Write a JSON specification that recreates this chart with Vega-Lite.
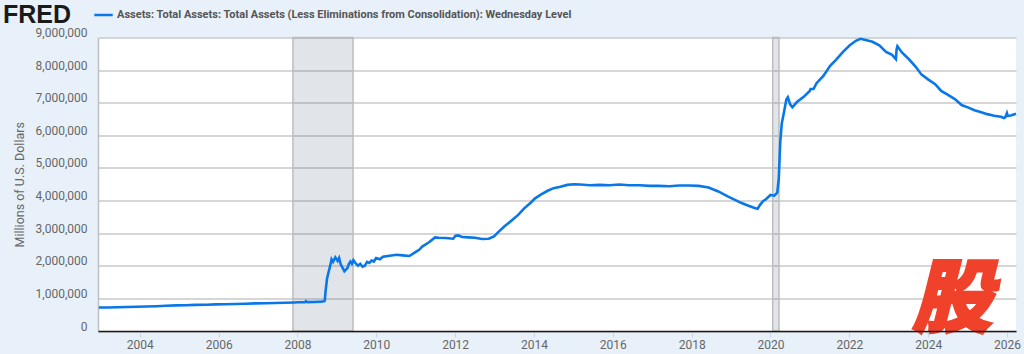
{
"$schema":"https://vega.github.io/schema/vega-lite/v6.json",
"width":918,"height":293.5,
"autosize":{"type":"none"},
"padding":{"left":98,"top":37.5,"right":8,"bottom":23},
"background":"#e8f1fa",
"view":{"fill":"#ffffff","stroke":null},
"title":{"text":"FRED","anchor":"start","frame":"group","dx":-95,"dy":23,"offset":0,"font":"Liberation Sans","fontSize":25,"fontWeight":"bold","color":"#1a1a1a"},
"datasets":{
"rec":[{"start":"2007-11-20","end":"2009-05-30"},{"start":"2020-01-22","end":"2020-03-20"}],
"mark":[{"date":"2024-08-10","value":900000,"t":"股"}],
"assets":[
{"date":"2002-12-18","value":720000},{"date":"2003-03-05","value":722000},{"date":"2003-06-04","value":728000},{"date":"2003-09-03","value":735000},{"date":"2003-12-03","value":745000},{"date":"2004-03-03","value":750000},{"date":"2004-06-02","value":760000},{"date":"2004-09-01","value":772000},{"date":"2004-12-01","value":785000},{"date":"2005-03-02","value":790000},{"date":"2005-06-01","value":800000},{"date":"2005-09-07","value":807000},{"date":"2005-12-07","value":815000},{"date":"2006-03-01","value":818000},{"date":"2006-06-07","value":828000},{"date":"2006-09-06","value":835000},{"date":"2006-12-06","value":848000},{"date":"2007-03-07","value":852000},{"date":"2007-06-06","value":858000},{"date":"2007-09-05","value":868000},{"date":"2007-12-05","value":875000},{"date":"2008-01-09","value":880000},{"date":"2008-03-12","value":885000},{"date":"2008-03-19","value":915000},{"date":"2008-04-02","value":885000},{"date":"2008-06-04","value":890000},{"date":"2008-08-06","value":900000},{"date":"2008-09-03","value":910000},{"date":"2008-09-10","value":925000},{"date":"2008-09-17","value":1200000},{"date":"2008-09-24","value":1400000},{"date":"2008-10-01","value":1600000},{"date":"2008-10-15","value":1800000},{"date":"2008-10-29","value":1980000},{"date":"2008-11-12","value":2200000},{"date":"2008-11-26","value":2120000},{"date":"2008-12-17","value":2260000},{"date":"2009-01-07","value":2150000},{"date":"2009-01-21","value":2240000},{"date":"2009-02-04","value":2050000},{"date":"2009-02-25","value":1920000},{"date":"2009-03-11","value":1830000},{"date":"2009-03-25","value":1880000},{"date":"2009-04-08","value":1930000},{"date":"2009-04-22","value":2060000},{"date":"2009-05-06","value":2130000},{"date":"2009-05-20","value":2060000},{"date":"2009-06-03","value":2170000},{"date":"2009-06-17","value":2100000},{"date":"2009-07-01","value":2050000},{"date":"2009-07-15","value":2000000},{"date":"2009-08-05","value":2060000},{"date":"2009-08-26","value":1970000},{"date":"2009-09-16","value":2000000},{"date":"2009-10-07","value":2120000},{"date":"2009-10-28","value":2090000},{"date":"2009-11-18","value":2160000},{"date":"2009-12-09","value":2130000},{"date":"2009-12-30","value":2240000},{"date":"2010-02-03","value":2200000},{"date":"2010-03-03","value":2280000},{"date":"2010-05-05","value":2310000},{"date":"2010-07-07","value":2340000},{"date":"2010-09-01","value":2320000},{"date":"2010-11-03","value":2300000},{"date":"2010-12-29","value":2420000},{"date":"2011-02-02","value":2490000},{"date":"2011-03-02","value":2590000},{"date":"2011-05-04","value":2720000},{"date":"2011-06-29","value":2870000},{"date":"2011-08-03","value":2860000},{"date":"2011-10-05","value":2850000},{"date":"2011-12-14","value":2830000},{"date":"2012-01-04","value":2920000},{"date":"2012-02-01","value":2930000},{"date":"2012-03-07","value":2880000},{"date":"2012-05-02","value":2870000},{"date":"2012-07-04","value":2860000},{"date":"2012-09-05","value":2820000},{"date":"2012-11-07","value":2830000},{"date":"2012-12-26","value":2900000},{"date":"2013-02-06","value":3040000},{"date":"2013-04-03","value":3210000},{"date":"2013-06-05","value":3380000},{"date":"2013-08-07","value":3560000},{"date":"2013-10-02","value":3760000},{"date":"2013-12-04","value":3940000},{"date":"2014-01-08","value":4060000},{"date":"2014-03-05","value":4180000},{"date":"2014-05-07","value":4300000},{"date":"2014-07-02","value":4380000},{"date":"2014-09-03","value":4420000},{"date":"2014-11-05","value":4480000},{"date":"2015-01-07","value":4500000},{"date":"2015-03-04","value":4490000},{"date":"2015-06-03","value":4470000},{"date":"2015-09-02","value":4480000},{"date":"2015-12-02","value":4470000},{"date":"2016-03-02","value":4490000},{"date":"2016-06-01","value":4470000},{"date":"2016-09-07","value":4470000},{"date":"2016-12-07","value":4450000},{"date":"2017-03-01","value":4450000},{"date":"2017-06-07","value":4440000},{"date":"2017-09-06","value":4460000},{"date":"2017-12-06","value":4460000},{"date":"2018-03-07","value":4450000},{"date":"2018-06-06","value":4400000},{"date":"2018-09-05","value":4280000},{"date":"2018-12-05","value":4120000},{"date":"2019-02-06","value":4020000},{"date":"2019-04-03","value":3930000},{"date":"2019-06-05","value":3850000},{"date":"2019-08-07","value":3770000},{"date":"2019-09-04","value":3750000},{"date":"2019-09-25","value":3860000},{"date":"2019-10-23","value":3980000},{"date":"2019-11-20","value":4040000},{"date":"2020-01-01","value":4170000},{"date":"2020-02-05","value":4150000},{"date":"2020-03-04","value":4240000},{"date":"2020-03-18","value":4670000},{"date":"2020-03-25","value":5250000},{"date":"2020-04-01","value":5810000},{"date":"2020-04-15","value":6370000},{"date":"2020-05-06","value":6720000},{"date":"2020-05-27","value":7100000},{"date":"2020-06-10","value":7170000},{"date":"2020-07-01","value":6950000},{"date":"2020-07-22","value":6860000},{"date":"2020-09-02","value":7020000},{"date":"2020-11-04","value":7180000},{"date":"2020-12-30","value":7360000},{"date":"2021-01-06","value":7420000},{"date":"2021-02-03","value":7420000},{"date":"2021-03-03","value":7600000},{"date":"2021-05-05","value":7820000},{"date":"2021-07-07","value":8130000},{"date":"2021-09-01","value":8320000},{"date":"2021-11-03","value":8560000},{"date":"2022-01-05","value":8760000},{"date":"2022-03-02","value":8900000},{"date":"2022-04-13","value":8960000},{"date":"2022-06-01","value":8920000},{"date":"2022-08-03","value":8870000},{"date":"2022-10-05","value":8760000},{"date":"2022-12-07","value":8560000},{"date":"2023-02-01","value":8470000},{"date":"2023-03-08","value":8340000},{"date":"2023-03-15","value":8640000},{"date":"2023-03-22","value":8730000},{"date":"2023-05-03","value":8540000},{"date":"2023-07-05","value":8340000},{"date":"2023-09-06","value":8110000},{"date":"2023-11-01","value":7860000},{"date":"2024-01-03","value":7710000},{"date":"2024-03-06","value":7570000},{"date":"2024-05-01","value":7360000},{"date":"2024-07-03","value":7240000},{"date":"2024-09-04","value":7110000},{"date":"2024-11-06","value":6930000},{"date":"2025-01-08","value":6850000},{"date":"2025-03-05","value":6770000},{"date":"2025-05-07","value":6710000},{"date":"2025-07-02","value":6650000},{"date":"2025-09-03","value":6600000},{"date":"2025-11-05","value":6570000},{"date":"2025-12-03","value":6530000},{"date":"2025-12-17","value":6560000},{"date":"2025-12-31","value":6680000},{"date":"2026-01-07","value":6600000},{"date":"2026-02-04","value":6610000},{"date":"2026-03-25","value":6660000}
]},
"layer":[
{"data":{"name":"rec"},
 "mark":{"type":"rect","fill":"#37506b","fillOpacity":0.15,"stroke":"#bdbdbd","strokeWidth":1.5},
 "encoding":{
  "x":{"field":"start","type":"temporal","title":null,"scale":{"type":"utc","domain":["2002-12-10","2026-03-25"],"nice":false},
   "axis":{"zindex":1,"tickCount":{"interval":"year","step":2},"format":"%Y","grid":false,"domainColor":"#1a1a1a","domainWidth":1.5,"tickColor":"#ccd6eb","tickSize":6,"labelFont":"Roboto","labelFontSize":12,"labelColor":"#666666","labelPadding":2,"labelFlush":false}},
  "x2":{"field":"end"},
  "y":{"datum":0,"type":"quantitative","title":"Millions of U.S. Dollars","scale":{"domain":[0,9000000],"nice":false},
   "axis":{"title":"Millions of U.S. Dollars","values":[0,1000000,2000000,3000000,4000000,5000000,6000000,7000000,8000000,9000000],"labelExpr":"format(datum.value, ',')","grid":true,"gridColor":"#c8c8c8","gridWidth":1.5,"domainColor":"#c0c0c0","domainWidth":1.5,"ticks":false,"labelFont":"Roboto","labelFontSize":12,"labelColor":"#666666","labelOffset":-5,"labelPadding":11,"titleFont":"Roboto","titleFontSize":12.5,"titleFontWeight":"normal","titleColor":"#666666","titlePadding":9}},
  "y2":{"datum":9000000}
 }},
{"data":{"name":"assets"},
 "transform":[{"calculate":"'Assets: Total Assets: Total Assets (Less Eliminations from Consolidation): Wednesday Level'","as":"series"}],
 "mark":{"type":"line","strokeWidth":2.6,"interpolate":"linear"},
 "encoding":{
  "x":{"field":"date","type":"temporal","title":null,"scale":{"type":"utc","domain":["2002-12-10","2026-03-25"],"nice":false},
   "axis":{"zindex":1,"tickCount":{"interval":"year","step":2},"format":"%Y","grid":false,"domainColor":"#1a1a1a","domainWidth":1.5,"tickColor":"#ccd6eb","tickSize":6,"labelFont":"Roboto","labelFontSize":12,"labelColor":"#666666","labelPadding":2,"labelFlush":false}},
  "y":{"field":"value","type":"quantitative","title":"Millions of U.S. Dollars","scale":{"domain":[0,9000000],"nice":false},
   "axis":{"title":"Millions of U.S. Dollars","values":[0,1000000,2000000,3000000,4000000,5000000,6000000,7000000,8000000,9000000],"labelExpr":"format(datum.value, ',')","grid":true,"gridColor":"#c8c8c8","gridWidth":1.5,"domainColor":"#c0c0c0","domainWidth":1.5,"ticks":false,"labelFont":"Roboto","labelFontSize":12,"labelColor":"#666666","labelOffset":-5,"labelPadding":11,"titleFont":"Roboto","titleFontSize":12.5,"titleFontWeight":"normal","titleColor":"#666666","titlePadding":9}},
  "color":{"field":"series","type":"nominal","scale":{"range":["#0a77e8"]},
   "legend":{"orient":"none","legendX":-5,"legendY":-33,"title":null,"symbolType":"stroke","symbolStrokeWidth":2.5,"symbolSize":340,"labelFont":"Roboto","labelFontSize":11,"labelFontWeight":"bold","labelColor":"#555555","labelLimit":600,"labelOffset":3}}
 }},
{"data":{"name":"mark"},
 "mark":{"type":"text","font":"Noto Sans CJK SC","fontWeight":900,"fontStyle":"italic","fontSize":80,"color":"#f0412a","stroke":"#f0412a","strokeWidth":2.5,"align":"center","baseline":"middle"},
 "encoding":{
  "x":{"field":"date","type":"temporal","scale":{"type":"utc","domain":["2002-12-10","2026-03-25"],"nice":false},"title":null,
   "axis":{"zindex":1,"tickCount":{"interval":"year","step":2},"format":"%Y","grid":false,"domainColor":"#1a1a1a","domainWidth":1.5,"tickColor":"#ccd6eb","tickSize":6,"labelFont":"Roboto","labelFontSize":12,"labelColor":"#666666","labelPadding":2,"labelFlush":false}},
  "y":{"field":"value","type":"quantitative","scale":{"domain":[0,9000000],"nice":false},"title":"Millions of U.S. Dollars",
   "axis":{"title":"Millions of U.S. Dollars","values":[0,1000000,2000000,3000000,4000000,5000000,6000000,7000000,8000000,9000000],"labelExpr":"format(datum.value, ',')","grid":true,"gridColor":"#c8c8c8","gridWidth":1.5,"domainColor":"#c0c0c0","domainWidth":1.5,"ticks":false,"labelFont":"Roboto","labelFontSize":12,"labelColor":"#666666","labelOffset":-5,"labelPadding":11,"titleFont":"Roboto","titleFontSize":12.5,"titleFontWeight":"normal","titleColor":"#666666","titlePadding":9}},
  "text":{"field":"t"}}}
]
}
